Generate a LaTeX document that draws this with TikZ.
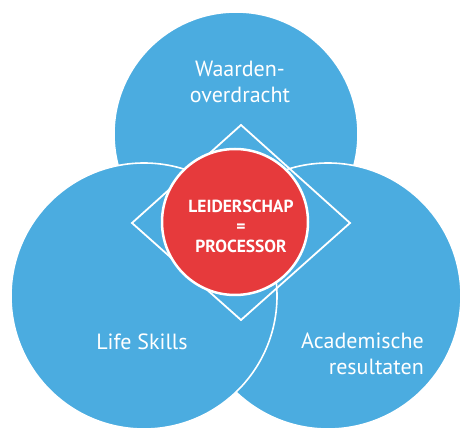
\documentclass[tikz,border=0pt]{standalone}
\usepackage{fontspec}
\setmainfont{PT Sans}
\usepackage{xcolor}
\usepackage{tikz}
\usetikzlibrary{positioning, calc}

\definecolor{bubbleblue}{RGB}{75,172,224}
\definecolor{coreRed}{RGB}{230,58,60}

\begin{document}
\begin{tikzpicture}[x=1pt, y=-1pt,
    bubble/.style={circle, draw=white, line width=1.6pt, fill=bubbleblue, inner sep=0pt},
    label/.style={text=white, font=\fontsize{22}{25.5}\selectfont, inner sep=0pt},
    core/.style={circle, draw=white, line width=2.5pt, fill=coreRed, inner sep=0pt}]

\useasboundingbox (0,0) rectangle (464,430);

% Three circles (top first, then right, then left)
\node[bubble, minimum size=244pt] (waarden) at (236,134) {};
\node[bubble, minimum size=266pt] (academisch) at (328,296) {};
\node[bubble, minimum size=266pt] (life) at (144,296) {};

% Diamond outline
\coordinate (dtop) at (241,125);
\coordinate (dright) at (350,223);
\coordinate (dbottom) at (241,320);
\coordinate (dleft) at (132,223);
\draw[white, line width=1.8pt, line join=miter] (dtop) -- (dright) -- (dbottom) -- (dleft) -- cycle;

% Red centre
\node[core, minimum size=146pt] (leider) at (235,222) {};

% Labels
\node[label, align=center, anchor=north] (waardentxt) at (240,61) {Waarden-\\overdracht};
\node[label, anchor=base] (lifetxt) at (142,350) {Life Skills};
\node[label, align=right, anchor=north east] (acadtxt) at (424,333) {Academische\\resultaten};
\node[text=white, font=\bfseries\fontsize{17.5}{20}\selectfont, align=center, inner sep=0pt]
    (leidertxt) at (241,226) {LEIDERSCHAP\\=\\PROCESSOR};

\end{tikzpicture}
\end{document}
